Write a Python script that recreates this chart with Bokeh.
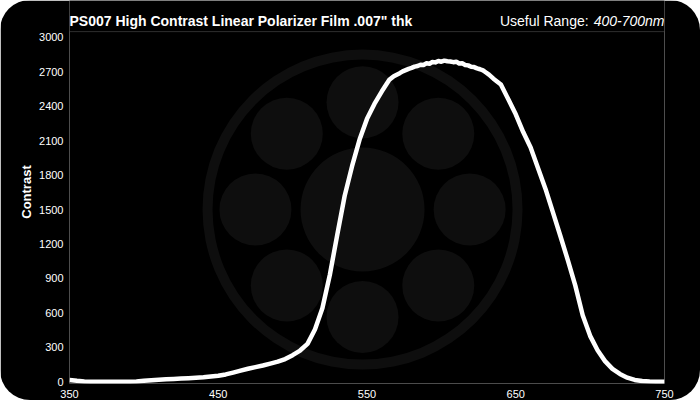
import math
from bokeh.plotting import figure
from bokeh.models import Label, FixedTicker, Range1d, BoxAnnotation
from bokeh.embed import file_html
from bokeh.resources import INLINE

# ---- data ----
wavelength = [350, 355, 360, 365, 370, 375, 380, 385, 390, 395, 400, 405, 410, 415, 420,
              425, 430, 435, 440, 445, 450, 455, 460, 465, 470, 475, 480, 485, 490, 495,
              500, 505, 510, 515, 520, 525, 530, 535, 540, 545, 550, 555, 560, 565,
              568, 570, 572, 574, 576, 578, 580, 582, 584, 586, 588, 590, 592, 594, 596,
              598, 600, 602, 604, 606, 608, 610, 612, 614, 616, 618, 620, 622, 624, 626,
              628, 630, 632,
              635, 640, 645, 650, 655, 660, 665, 670, 675, 680, 685, 690, 695, 700, 705,
              710, 715, 720, 725, 730, 735, 740, 745, 750]
contrast = [15, 8, 3, 0, 0, 0, 0, 0, 0, 2, 8, 14, 18, 22, 25,
            28, 31, 35, 39, 45, 52, 64, 80, 97, 113, 128, 142, 158, 175, 198,
            232, 272, 330, 455, 640, 930, 1280, 1620, 1880, 2110, 2290, 2420, 2530, 2630,
            2662, 2675, 2688, 2704, 2715, 2726, 2734, 2745, 2750, 2762, 2760, 2774, 2770, 2785, 2782,
            2794, 2788, 2797, 2792, 2790, 2784, 2788, 2772, 2774, 2760, 2756, 2744, 2741, 2730, 2722,
            2712, 2694, 2675,
            2640, 2590, 2460, 2330, 2175, 2040, 1860, 1680, 1475, 1270, 1060, 840, 580, 400, 275,
            180, 112, 68, 36, 16, 6, 2, 0, 0]

x_ticks = [350, 450, 550, 650, 750]
y_ticks = [0, 300, 600, 900, 1200, 1500, 1800, 2100, 2400, 2700, 3000]
title_text = 'PS007 High Contrast Linear Polarizer Film .007" thk'
range_prefix = "Useful Range: "
range_value = "400-700nm"
y_label = "Contrast"

x_min, x_max = 350, 750
y_min, y_max = -15, 3050      # visible plot box
y_top = 3321                  # canvas top (header area lives above the box)

# decorative watermark logo (centre in data units, radii in screen px)
logo_x = 547
logo_y = 1500
logo_dx = 72      # nm offset of satellite circles
logo_dy = 935     # contrast offset of satellite circles
logo_color = "#0e0e0e"

FONT = "Liberation Sans"

p = figure(width=700, height=400, output_backend="svg", toolbar_location=None,
           x_range=Range1d(x_min, x_max), y_range=Range1d(y_min, y_top))
p.styles = {"border-radius": "30px", "overflow": "hidden"}
p.background_fill_color = "black"
p.border_fill_color = "black"
p.outline_line_color = None
p.min_border_left = 69
p.min_border_right = 36
p.min_border_top = 0
p.min_border_bottom = 0
p.xgrid.visible = False
p.ygrid.visible = False

for ax in (p.xaxis[0], p.yaxis[0]):
    ax.axis_line_color = None
    ax.major_tick_line_color = None
    ax.minor_tick_line_color = None
    ax.major_tick_out = 0
    ax.major_tick_in = 0
    ax.minor_tick_out = 0
    ax.minor_tick_in = 0
    ax.major_label_text_color = "white"
    ax.major_label_text_font = FONT
    ax.major_label_text_font_size = "11px"

p.xaxis.ticker = FixedTicker(ticks=x_ticks)
p.yaxis.ticker = FixedTicker(ticks=y_ticks)
p.xaxis.major_label_standoff = 6
p.yaxis.major_label_standoff = 6
p.yaxis.axis_label = y_label
p.yaxis.axis_label_text_color = "white"
p.yaxis.axis_label_text_font = FONT
p.yaxis.axis_label_text_font_style = "bold"
p.yaxis.axis_label_text_font_size = "13px"
p.yaxis.axis_label_standoff = 2

# plot box outline
p.add_layout(BoxAnnotation(left=x_min, right=x_max, bottom=y_min, top=y_max,
                           fill_color=None, line_color="#9a9a9a", line_width=1,
                           level="underlay"))

# watermark
p.annulus(x=[logo_x], y=[logo_y], inner_radius=150, outer_radius=160,
          inner_radius_units="screen", outer_radius_units="screen",
          fill_color=logo_color, line_color=None, level="underlay")
p.circle(x=[logo_x], y=[logo_y], radius=62, radius_units="screen",
         fill_color=logo_color, line_color=None, level="underlay")
sx, sy = [], []
for k in range(8):
    a = math.radians(90 - 45 * k)
    sx.append(logo_x + logo_dx * math.cos(a))
    sy.append(logo_y + logo_dy * math.sin(a))
p.circle(x=sx, y=sy, radius=36, radius_units="screen",
         fill_color=logo_color, line_color=None, level="underlay")

# data curve
p.line(wavelength, contrast, line_color="white", line_width=4.5, line_join="round")

# header texts
p.add_layout(Label(x=x_min, y=y_max, y_offset=11, text=title_text, text_color="white",
                   text_font=FONT, text_font_style="bold", text_font_size="14px",
                   text_baseline="middle", text_align="left"))
p.add_layout(Label(x=x_max, y=y_max, y_offset=11, text=range_value, text_color="white",
                   text_font=FONT, text_font_style="italic", text_font_size="14px",
                   text_baseline="middle", text_align="right"))
p.add_layout(Label(x=x_max, y=y_max, y_offset=11, x_offset=-72, text=range_prefix,
                   text_color="white", text_font=FONT, text_font_size="14px",
                   text_baseline="middle", text_align="right"))

open("out.html", "w").write(file_html(p, INLINE))
